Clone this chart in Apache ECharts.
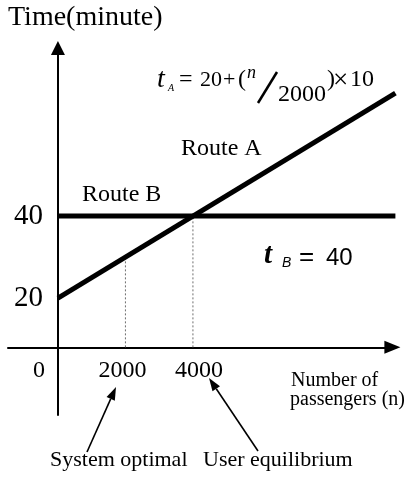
<!DOCTYPE html>
<html><head><meta charset="utf-8">
<script src="https://cdn.jsdelivr.net/npm/echarts@6/dist/echarts.min.js"></script>
<style>html,body{margin:0;padding:0;background:#fff}#c{width:412px;height:477px}</style>
</head><body><div id="c"></div>
<script>
// ---- data ----
const routeA_n = [0, 10000];
const routeA_t = [20, 70];
const routeB_n = [0, 10000];
const routeB_t = [40, 40];
const xTickValues = [0, 2000, 4000];
const yTickValues = [20, 40];
const systemOptimal = [2000, 30];
const userEquilibrium = [4000, 40];
const axisCrossT = 8;            // time level at which the n-axis is drawn (schematic)
const xRange = [-1480, 10000];
const yRange = [-8.5, 81];

// ---- layout ----
const SERIF = '"Liberation Serif", "Times New Roman", serif';
const SANS = '"Liberation Sans", Arial, sans-serif';
const grid = {left: 8, top: 48, width: 387.4, height: 367};
const xAxisOffset = -(axisCrossT - yRange[0]) / (yRange[1] - yRange[0]) * grid.height;
const yAxisOffset = -(0 - xRange[0]) / (xRange[1] - xRange[0]) * grid.width;

const zip = (a, b) => a.map((v, i) => [v, b[i]]);

function arrow(x1, y1, x2, y2) {
  const ang = Math.atan2(y2 - y1, x2 - x1);
  const L = 13, W = 4.5;
  const bx = x2 - L * Math.cos(ang), by = y2 - L * Math.sin(ang);
  const px = -Math.sin(ang) * W, py = Math.cos(ang) * W;
  return [
    {type: 'line', shape: {x1: x1, y1: y1, x2: bx, y2: by}, style: {stroke: '#000', lineWidth: 1.6}},
    {type: 'polygon', shape: {points: [[x2, y2], [bx + px, by + py], [bx - px, by - py]]}, style: {fill: '#000'}}
  ];
}
function txt(x, y, s, size, extra, fam, styleStr) {
  fam = fam || SERIF;
  styleStr = styleStr || 'normal';
  return {type: 'text', x: x, y: y,
    style: Object.assign({text: s, font: styleStr + ' ' + size + 'px ' + fam,
      fill: '#000', align: 'left', verticalAlign: 'middle'}, extra || {})};
}

const chart = echarts.init(document.getElementById('c'), null, {renderer: 'canvas'});
const option = {
  backgroundColor: '#fff',
  animation: false,
  grid: {left: grid.left, top: grid.top, width: grid.width, height: grid.height, outerBoundsMode: 'none', containLabel: false},
  xAxis: {
    type: 'value', min: xRange[0], max: xRange[1], position: 'bottom', offset: xAxisOffset,
    axisLine: {show: true, onZero: false, lineStyle: {color: '#000', width: 2},
      symbol: ['none', 'triangle'], symbolSize: [13, 16], symbolOffset: [0, -3]},
    axisTick: {show: false}, splitLine: {show: false},
    axisLabel: {
      customValues: xTickValues, margin: 11, color: '#000', fontFamily: SERIF, fontSize: 24,
      formatter: function (v) { return v === 0 ? '{z|0}' : (v === 2000 ? '{a|' + v + '}' : '{b|' + v + '}'); },
      rich: {
        z: {fontFamily: SERIF, fontSize: 24, color: '#000', padding: [0, 38, 0, 0]},
        a: {fontFamily: SERIF, fontSize: 24, color: '#000', padding: [0, 6, 0, 0]},
        b: {fontFamily: SERIF, fontSize: 24, color: '#000', padding: [0, 0, 0, 12]}
      }
    }
  },
  yAxis: {
    type: 'value', min: yRange[0], max: yRange[1], position: 'left', offset: yAxisOffset,
    axisLine: {show: true, onZero: false, lineStyle: {color: '#000', width: 2},
      symbol: ['none', 'triangle'], symbolSize: [14, 14]},
    axisTick: {show: false}, splitLine: {show: false},
    axisLabel: {customValues: yTickValues, margin: 15, color: '#000', fontFamily: SERIF, fontSize: 29, padding: [8, 0, 0, 0]}
  },
  series: [
    {type: 'line', name: 'dot2000', data: [[systemOptimal[0], axisCrossT], systemOptimal], symbol: 'none', silent: true, z: 1,
      lineStyle: {color: '#6f6f6f', width: 1, type: [2, 2]}},
    {type: 'line', name: 'dot4000', data: [[userEquilibrium[0], axisCrossT], userEquilibrium], symbol: 'none', silent: true, z: 1,
      lineStyle: {color: '#6f6f6f', width: 1, type: [2, 2]}},
    {type: 'line', name: 'Route A', data: zip(routeA_n, routeA_t), symbol: 'none', silent: true, z: 3,
      lineStyle: {color: '#000', width: 5, cap: 'butt'}},
    {type: 'line', name: 'Route B', data: zip(routeB_n, routeB_t), symbol: 'none', silent: true, z: 3,
      lineStyle: {color: '#000', width: 5, cap: 'butt'}}
  ],
  graphic: [].concat(
    [
      txt(8, 18, 'Time(minute)', 28),
      txt(181, 149, 'Route A', 24),
      txt(82, 195, 'Route B', 24),
      // t_B = 40
      txt(264, 256, 't', 29, null, SERIF, 'italic bold'),
      txt(282, 263, 'B', 14, null, SANS, 'italic'),
      txt(299, 258, '=', 26, null, SANS),
      txt(326, 258, '40', 24, null, SANS),
      // formula t_A = 20 + (n/2000) x 10
      txt(157, 80, 't', 28, null, SERIF, 'italic'),
      txt(168, 88, 'A', 10, null, SERIF, 'italic'),
      txt(179, 80, '=', 24),
      txt(200, 80, '20', 22),
      txt(223, 80, '+', 22),
      txt(238, 80, '(', 24),
      txt(247, 73, 'n', 18, null, SERIF, 'italic'),
      {type: 'line', shape: {x1: 277, y1: 72, x2: 258, y2: 103}, style: {stroke: '#000', lineWidth: 2.5}},
      txt(278, 95, '2000', 24),
      txt(327, 80, ')', 24),
      txt(333, 81, '\u00d7', 27),
      txt(350, 80, '10', 24),
      txt(291, 381, 'Number of', 20),
      txt(290, 400, 'passengers (n)', 20),
      txt(50, 460, 'System optimal', 22),
      txt(203, 460, 'User equilibrium', 22)
    ],
    arrow(87, 452, 116, 387),
    arrow(258, 451, 209, 378)
  )
};
chart.setOption(option);
</script></body></html>
